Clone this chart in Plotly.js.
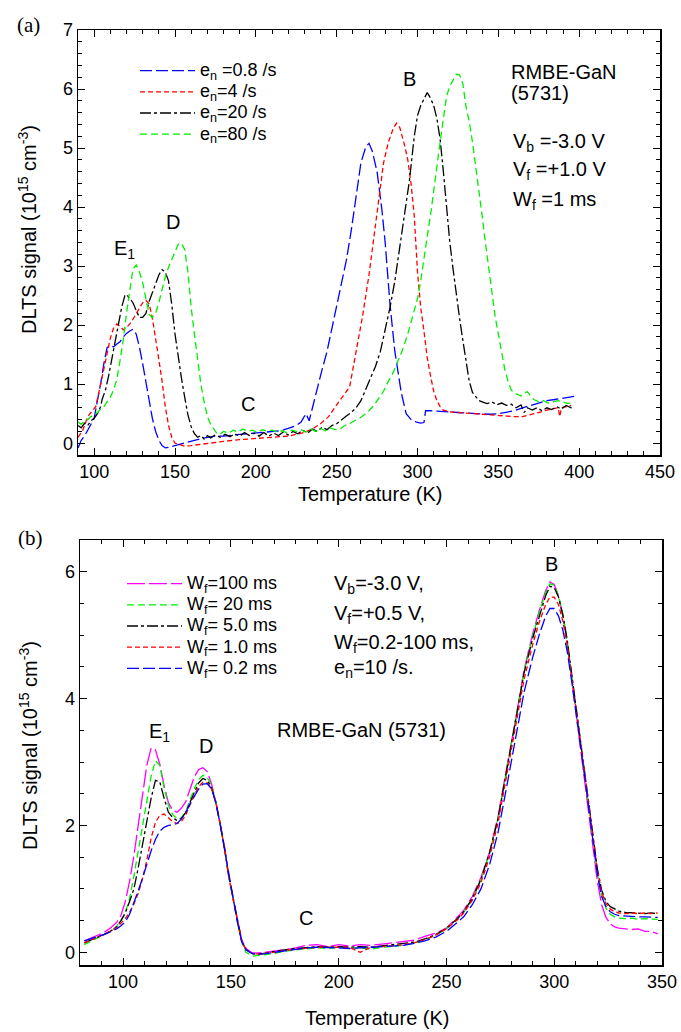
<!DOCTYPE html>
<html>
<head>
<meta charset="utf-8">
<script src="https://cdn.plot.ly/plotly-3.0.1.min.js"></script>
<style>html,body{margin:0;padding:0;background:#fff;}#chart{width:681px;height:1032px;}</style>
</head>
<body>
<div id="chart"></div>
<script>
// ---------- Panel (a): DLTS spectra vs. emission rate  [T (K), signal (1e15 cm^-3)] ----------
const legendA = ["e<sub>n</sub> =0.8 /s", "e<sub>n</sub>=4 /s", "e<sub>n</sub>=20 /s", "e<sub>n</sub>=80 /s"];

const aEn08 = [[90,-0.08],[92,0.05],[94,0.12],[96,0.22],[98,0.3],[100,0.42],[102,0.72],[104,1.0],[106,1.35],[108,1.62],
[110,1.66],[112,1.63],[114,1.68],[116,1.72],[118,1.8],[120,1.86],[122,1.9],[124,1.93],[126,1.85],[128,1.63],
[130,1.35],[132,1.05],[134,0.72],[136,0.42],[138,0.2],[140,0.05],[142,-0.04],[144,-0.08],[146,-0.07],[150,-0.04],
[155,0.0],[160,0.04],[165,0.07],[170,0.1],[175,0.12],[180,0.12],[185,0.14],[190,0.15],[195,0.16],[200,0.17],
[205,0.18],[210,0.2],[215,0.21],[220,0.25],[225,0.3],[228,0.36],[231,0.5],[233,0.38],[235,0.6],[238,0.95],
[241,1.25],[244,1.55],[247,1.95],[250,2.35],[253,2.75],[256,3.1],[259,3.6],[262,4.2],[265,4.75],[268,5.02],
[270,5.08],[272,4.95],[275,4.6],[278,3.95],[280,3.4],[283,2.35],[286,1.55],[288,1.2],[290,0.85],[293,0.5],
[296,0.4],[299,0.36],[302,0.34],[304,0.35],[305,0.55],[308,0.55],[312,0.54],[316,0.53],[320,0.52],[325,0.52],
[330,0.51],[335,0.5],[340,0.5],[345,0.49],[350,0.5],[355,0.52],[360,0.55],[365,0.6],[370,0.64],[375,0.68],
[380,0.72],[385,0.74],[390,0.76],[395,0.78],[398,0.8]];

const aEn4 = [[90,0.1],[93,0.22],[96,0.45],[99,0.55],[101,0.62],[104,1.0],[107,1.4],[110,1.78],[112,1.95],[114,2.02],
[116,1.98],[118,1.92],[120,1.96],[122,2.02],[124,2.1],[126,2.2],[128,2.3],[130,2.38],[132,2.42],[134,2.36],
[136,2.12],[138,1.8],[140,1.42],[142,1.05],[144,0.62],[146,0.3],[148,0.1],[150,0.0],[153,-0.03],[156,-0.05],
[160,-0.04],[165,-0.02],[170,0.0],[175,0.02],[180,0.03],[190,0.06],[200,0.08],[210,0.09],[220,0.12],[230,0.18],
[235,0.24],[240,0.33],[245,0.45],[250,0.65],[255,0.85],[258,0.95],[262,1.55],[266,2.15],[270,2.85],[273,3.5],
[276,4.2],[279,4.75],[282,5.1],[285,5.33],[287,5.42],[289,5.35],[292,5.05],[294,4.8],[296,4.4],[298,3.85],
[300,2.9],[302,2.3],[304,1.9],[306,1.45],[308,1.15],[310,0.88],[312,0.72],[314,0.62],[316,0.56],[320,0.53],
[325,0.52],[330,0.51],[335,0.5],[340,0.49],[345,0.48],[350,0.46],[355,0.45],[360,0.45],[365,0.45],[370,0.48],
[375,0.52],[380,0.56],[385,0.58],[387,0.6],[388,0.45],[389,0.6],[392,0.62],[395,0.64]];

const aEn20 = [[90,0.3],[92,0.26],[94,0.34],[96,0.3],[98,0.38],[100,0.42],[102,0.5],[104,0.62],[105,0.75],[107,0.9],
[109,1.15],[111,1.45],[113,1.75],[115,2.05],[117,2.3],[119,2.5],[120,2.52],[122,2.45],[124,2.38],[126,2.25],
[128,2.13],[130,2.13],[132,2.2],[134,2.4],[136,2.55],[138,2.7],[140,2.85],[142,2.94],[144,2.9],[146,2.75],
[148,2.35],[150,1.85],[152,1.45],[154,1.1],[156,0.78],[158,0.48],[160,0.28],[162,0.16],[164,0.1],[166,0.13],
[168,0.07],[170,0.13],[172,0.09],[175,0.14],[178,0.1],[181,0.15],[184,0.11],[187,0.16],[190,0.12],[193,0.18],
[196,0.13],[199,0.17],[202,0.12],[205,0.18],[208,0.12],[211,0.17],[214,0.13],[217,0.19],[220,0.14],[223,0.2],
[226,0.16],[229,0.22],[232,0.17],[235,0.24],[238,0.2],[241,0.27],[244,0.23],[247,0.3],[250,0.33],[253,0.4],
[256,0.46],[259,0.52],[262,0.6],[265,0.72],[268,0.92],[271,1.1],[274,1.3],[277,1.55],[280,1.9],[283,2.3],
[286,2.75],[289,3.3],[292,3.9],[295,4.45],[298,5.2],[300,5.55],[302,5.72],[304,5.84],[306,5.94],[308,5.85],
[310,5.72],[312,5.5],[314,5.15],[316,4.6],[318,4.0],[320,3.4],[322,2.95],[324,2.5],[326,2.12],[328,1.75],
[330,1.38],[332,1.05],[334,0.86],[336,0.78],[338,0.72],[340,0.7],[343,0.67],[346,0.7],[349,0.65],[352,0.68],
[355,0.64],[358,0.66],[361,0.6],[364,0.65],[366,0.52],[368,0.6],[371,0.56],[374,0.6],[377,0.55],[380,0.6],
[383,0.57],[386,0.62],[389,0.58],[392,0.64],[395,0.6],[397,0.62]];

const aEn80 = [[90,0.36],[92,0.32],[94,0.38],[96,0.4],[98,0.45],[100,0.48],[102,0.52],[104,0.58],[106,0.62],[108,0.7],
[110,0.78],[112,0.9],[114,1.08],[116,1.4],[118,1.75],[120,2.2],[122,2.6],[124,2.95],[126,3.02],[128,2.9],
[130,2.72],[132,2.45],[134,2.18],[136,2.13],[138,2.2],[140,2.38],[142,2.6],[144,2.82],[146,2.98],[148,3.12],
[150,3.25],[152,3.37],[154,3.39],[156,3.28],[158,2.9],[160,2.3],[162,1.85],[164,1.4],[166,1.0],[168,0.7],
[170,0.45],[172,0.32],[174,0.24],[176,0.16],[178,0.15],[180,0.2],[183,0.17],[186,0.22],[189,0.19],[192,0.24],
[195,0.2],[198,0.22],[201,0.18],[204,0.23],[207,0.2],[210,0.22],[213,0.19],[216,0.21],[219,0.18],[222,0.22],
[225,0.2],[228,0.23],[231,0.19],[234,0.24],[237,0.2],[240,0.25],[243,0.21],[246,0.26],[249,0.23],[252,0.24],
[255,0.3],[258,0.33],[261,0.38],[264,0.42],[267,0.48],[270,0.55],[273,0.64],[276,0.75],[279,0.88],[282,1.05],
[285,1.2],[288,1.4],[291,1.6],[294,1.85],[297,2.15],[300,2.45],[302,2.75],[304,3.15],[306,3.5],[308,3.85],
[310,4.3],[312,4.7],[314,5.1],[316,5.5],[318,5.88],[320,6.05],[322,6.15],[324,6.25],[326,6.24],[328,6.1],
[330,5.7],[332,5.45],[334,5.1],[336,4.7],[338,4.3],[340,3.85],[342,3.4],[344,2.95],[346,2.55],[348,2.15],
[350,1.85],[352,1.55],[354,1.25],[356,1.05],[358,0.9],[360,0.85],[362,0.82],[364,0.8],[366,0.85],[368,0.87],
[370,0.8],[372,0.74],[375,0.7],[378,0.72],[381,0.68],[384,0.7],[387,0.72],[390,0.7],[393,0.67],[397,0.7]];

// ---------- Panel (b): DLTS spectra vs. filling pulse width ----------
const legendB = ["W<sub>f</sub>=100 ms", "W<sub>f</sub>= 20 ms", "W<sub>f</sub>= 5.0 ms", "W<sub>f</sub>= 1.0 ms", "W<sub>f</sub>= 0.2 ms"];

const tempB = [82,85,88,91,94,97,99,101,103,105,
107,109,111,113,115,117,119,121,123,125,
127,129,131,133,135,137,139,141,143,145,
147,149,151,153,155,157,160,163,166,170,
175,180,185,190,195,200,205,210,215,220,
225,230,235,240,245,250,255,258,262,266,
270,274,278,282,286,290,293,296,298,300,
302,304,306,308,310,312,314,316,318,320,
322,324,326,328,330,333,336,339,342,345,
348];

const bWf100 = [0.18,0.22,0.26,0.31,0.38,0.47,0.58,0.8,1.12,1.52,
2.0,2.5,2.95,3.22,3.19,2.97,2.63,2.36,2.24,2.21,
2.27,2.37,2.55,2.76,2.88,2.91,2.85,2.66,2.38,2.03,
1.68,1.2,0.85,0.5,0.2,0.06,-0.01,-0.01,0.0,0.02,
0.04,0.07,0.11,0.12,0.09,0.12,0.1,0.12,0.11,0.13,
0.15,0.17,0.19,0.25,0.3,0.38,0.55,0.66,0.88,1.18,
1.58,2.15,2.92,3.65,4.45,5.02,5.38,5.7,5.84,5.8,
5.62,5.3,4.88,4.35,3.85,3.33,2.78,2.25,1.72,1.12,
0.75,0.55,0.45,0.4,0.38,0.37,0.36,0.37,0.33,0.33,
0.29];

const bWf20 = [0.12,0.17,0.22,0.27,0.33,0.41,0.5,0.62,0.85,1.2,
1.6,2.0,2.42,2.78,3.02,2.95,2.6,2.32,2.17,2.11,
2.12,2.21,2.4,2.58,2.72,2.79,2.76,2.63,2.38,2.04,
1.66,1.2,0.83,0.48,0.16,0.0,-0.06,-0.05,-0.04,-0.02,
0.02,0.04,0.06,0.07,0.06,0.08,0.06,0.07,0.05,0.08,
0.09,0.11,0.14,0.2,0.27,0.37,0.52,0.63,0.84,1.14,
1.56,2.12,2.9,3.62,4.42,4.98,5.35,5.67,5.81,5.79,
5.62,5.33,4.92,4.4,3.9,3.4,2.85,2.32,1.8,1.25,
0.9,0.7,0.6,0.56,0.54,0.53,0.54,0.52,0.53,0.52,
0.52];

const bWf5 = [0.15,0.19,0.23,0.28,0.33,0.4,0.5,0.62,0.8,1.0,
1.33,1.68,2.05,2.43,2.71,2.69,2.43,2.21,2.12,2.08,
2.11,2.2,2.36,2.53,2.67,2.74,2.71,2.6,2.36,2.03,
1.65,1.2,0.84,0.5,0.18,0.04,-0.02,-0.03,-0.01,0.01,
0.04,0.06,0.08,0.09,0.08,0.09,0.08,0.09,0.08,0.1,
0.11,0.13,0.16,0.21,0.28,0.38,0.53,0.64,0.85,1.15,
1.57,2.12,2.88,3.6,4.4,4.95,5.3,5.62,5.77,5.75,
5.6,5.32,4.93,4.42,3.92,3.42,2.88,2.36,1.85,1.32,
0.98,0.8,0.72,0.68,0.65,0.63,0.62,0.62,0.61,0.62,
0.61];

const bWf1 = [0.15,0.19,0.23,0.28,0.33,0.39,0.46,0.53,0.63,0.76,
0.93,1.16,1.45,1.8,2.05,2.16,2.18,2.12,2.06,2.03,
2.06,2.16,2.32,2.48,2.61,2.68,2.67,2.58,2.36,2.03,
1.64,1.2,0.84,0.49,0.18,0.04,-0.02,-0.03,-0.02,0.0,
0.03,0.05,0.07,0.08,0.08,0.08,0.08,0.0,0.08,0.09,
0.1,0.12,0.15,0.2,0.27,0.37,0.51,0.62,0.82,1.1,
1.5,2.05,2.8,3.52,4.3,4.85,5.2,5.48,5.6,5.6,
5.48,5.22,4.85,4.38,3.9,3.4,2.87,2.35,1.84,1.3,
0.95,0.77,0.68,0.64,0.62,0.61,0.62,0.61,0.62,0.61,
0.62];

const bWf02 = [0.18,0.21,0.24,0.28,0.32,0.37,0.42,0.48,0.6,0.77,
0.97,1.17,1.4,1.6,1.78,1.91,1.97,2.0,2.01,2.03,
2.1,2.2,2.34,2.46,2.57,2.65,2.66,2.58,2.36,2.02,
1.63,1.2,0.84,0.48,0.17,0.04,-0.02,-0.03,-0.02,0.0,
0.03,0.05,0.07,0.08,0.08,0.07,0.06,0.07,0.07,0.08,
0.09,0.11,0.14,0.18,0.24,0.33,0.47,0.56,0.75,1.0,
1.38,1.9,2.62,3.35,4.1,4.65,5.0,5.3,5.42,5.42,
5.3,5.08,4.75,4.3,3.82,3.32,2.8,2.28,1.76,1.22,
0.88,0.72,0.64,0.6,0.58,0.57,0.57,0.56,0.56,0.56,
0.55];

// ---------- styles ----------
const FONT = '"Liberation Sans", Arial, Helvetica, sans-serif';
const stylesA = [
  {color:'#0000ff', dash:'12px,4px'},
  {color:'#ff0000', dash:'5px,3px'},
  {color:'#000000', dash:'11px,3px,3px,3px'},
  {color:'#00ee00', dash:'7px,4px'}
];
const stylesB = [
  {color:'#ff00ff', dash:'18px,4px'},
  {color:'#00ee00', dash:'7px,4px'},
  {color:'#000000', dash:'11px,3px,3px,3px'},
  {color:'#ff0000', dash:'5px,3px'},
  {color:'#0000ff', dash:'12px,4px'}
];

const seriesA = [aEn08, aEn4, aEn20, aEn80];
const seriesB = [bWf100, bWf20, bWf5, bWf1, bWf02];

// legend text drawn at 18px while the row pitch follows the (smaller) legend font size
const big = s => '<span style="font-size:18px">' + s + '</span>';

const traces = [];
seriesA.forEach((s, i) => {
  traces.push({
    x: s.map(p => p[0]), y: s.map(p => p[1]),
    type: 'scatter', mode: 'lines', name: big(legendA[i]),
    xaxis: 'x', yaxis: 'y', legend: 'legend',
    line: {color: stylesA[i].color, dash: stylesA[i].dash, width: 1.3}
  });
});
seriesB.forEach((s, i) => {
  traces.push({
    x: tempB, y: s,
    type: 'scatter', mode: 'lines', name: big(legendB[i]),
    xaxis: 'x2', yaxis: 'y2', legend: 'legend2',
    line: {color: stylesB[i].color, dash: stylesB[i].dash, width: 1.3}
  });
});

const W = 681, H = 1032;
const px = v => v / W;
const py = v => 1 - v / H;

function axisX(domain, range, dtick, minorDtick, anchor) {
  return {
    domain: domain, range: range, anchor: anchor,
    dtick: dtick, tick0: 0,
    ticks: 'inside', ticklen: 7, tickwidth: 1, tickcolor: '#000',
    minor: {dtick: minorDtick, ticks: 'inside', ticklen: 4, tickwidth: 1, tickcolor: '#000'},
    showline: true, linewidth: 1.5, linecolor: '#000', mirror: 'ticks',
    showgrid: false, zeroline: false,
    tickfont: {family: FONT, size: 18, color: '#000'}
  };
}

const ann = (text, x, y, opts) => Object.assign({
  text: text, x: x, y: y, xref: 'paper', yref: 'paper',
  showarrow: false, xanchor: 'left', yanchor: 'middle',
  font: {family: FONT, size: 20, color: '#000'}
}, opts || {});

const annotations = [
  // panel labels
  ann('(a)', px(28), py(25), {xanchor: 'center', font: {family: '"Liberation Serif", "Times New Roman", serif', size: 21, color: '#000'}}),
  ann('(b)', px(30), py(538), {xanchor: 'center', font: {family: '"Liberation Serif", "Times New Roman", serif', size: 21, color: '#000'}}),
  // axis titles
  ann('Temperature (K)', px(370), py(494), {xanchor: 'center'}),
  ann('Temperature (K)', px(377), py(1018), {xanchor: 'center'}),
  ann('DLTS signal (10<sup>15</sup> cm<sup>-3</sup>)', px(28), py(230), {xanchor: 'center', textangle: -90}),
  ann('DLTS signal (10<sup>15</sup> cm<sup>-3</sup>)', px(28), py(746), {xanchor: 'center', textangle: -90}),
  // panel (a) notes
  ann('RMBE-GaN', px(509), py(72)),
  ann('(5731)', px(509), py(93)),
  ann('V<sub>b</sub> =-3.0 V', px(511), py(142)),
  ann('V<sub>f</sub> =+1.0 V', px(511), py(171)),
  ann('W<sub>f</sub> =1 ms', px(511), py(200)),
  // panel (b) notes
  ann('V<sub>b</sub>=-3.0 V,', px(332), py(584)),
  ann('V<sub>f</sub>=+0.5 V,', px(332), py(614)),
  ann('W<sub>f</sub>=0.2-100 ms,', px(332), py(643)),
  ann('e<sub>n</sub>=10 /s.', px(332), py(668)),
  ann('RMBE-GaN (5731)', px(361), py(730), {xanchor: 'center'}),
  // peak labels (data coordinates)
  {text: 'B', x: 295.3, y: 6.17, xref: 'x', yref: 'y', showarrow: false, font: {family: FONT, size: 20, color: '#000'}},
  {text: 'D', x: 148.6, y: 3.75, xref: 'x', yref: 'y', showarrow: false, font: {family: FONT, size: 20, color: '#000'}},
  {text: 'E<sub>1</sub>', x: 119, y: 3.28, xref: 'x', yref: 'y', showarrow: false, font: {family: FONT, size: 20, color: '#000'}},
  {text: 'C', x: 195.1, y: 0.66, xref: 'x', yref: 'y', showarrow: false, font: {family: FONT, size: 20, color: '#000'}},
  {text: 'B', x: 298.8, y: 6.12, xref: 'x2', yref: 'y2', showarrow: false, font: {family: FONT, size: 20, color: '#000'}},
  {text: 'E<sub>1</sub>', x: 117, y: 3.46, xref: 'x2', yref: 'y2', showarrow: false, font: {family: FONT, size: 20, color: '#000'}},
  {text: 'D', x: 138.4, y: 3.25, xref: 'x2', yref: 'y2', showarrow: false, font: {family: FONT, size: 20, color: '#000'}},
  {text: 'C', x: 184.8, y: 0.54, xref: 'x2', yref: 'y2', showarrow: false, font: {family: FONT, size: 20, color: '#000'}}
];

const legendCommon = {
  xanchor: 'left', yanchor: 'top', bgcolor: 'rgba(0,0,0,0)', borderwidth: 0,
  font: {family: FONT, size: 14, color: '#000'}, traceorder: 'normal', tracegroupgap: 0,
  itemwidth: 55
};

const layout = {
  width: W, height: H, autosize: false,
  margin: {l: 0, r: 0, t: 0, b: 0, pad: 0},
  paper_bgcolor: '#fff', plot_bgcolor: '#fff',
  font: {family: FONT, color: '#000'},
  showlegend: true,
  legend: Object.assign({x: px(135), y: py(55)}, legendCommon),
  legend2: Object.assign({x: px(122), y: py(568)}, legendCommon),
  xaxis: axisX([px(78), px(660)], [90, 450], 50, 10, 'y'),
  yaxis: axisX([py(455), py(30)], [-0.2, 7], 1, 0.2, 'x'),
  xaxis2: axisX([px(80), px(662)], [80, 350], 50, 10, 'y2'),
  yaxis2: axisX([py(965), py(540)], [-0.2, 6.5], 2, 0.5, 'x2'),
  annotations: annotations
};

Plotly.newPlot('chart', traces, layout, {displayModeBar: false, staticPlot: true});
</script>
</body>
</html>
